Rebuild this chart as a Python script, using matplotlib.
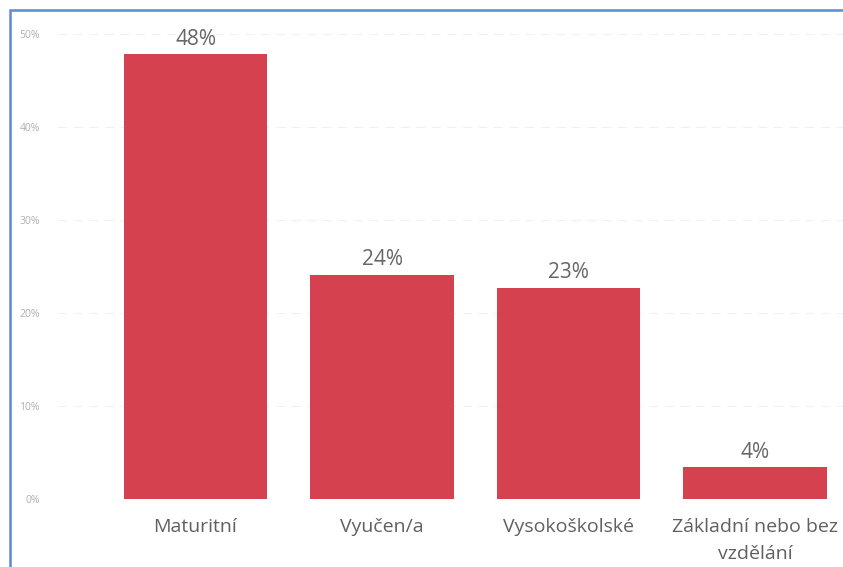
import matplotlib.pyplot as plt
from matplotlib.patches import Rectangle

categories = ['Maturitní', 'Vyučen/a', 'Vysokoškolské', 'Základní nebo bez\nvzdělání']
shares = [47.8, 24.1, 22.7, 3.4]
labels = ['48%', '24%', '23%', '4%']
yticks = [0, 10, 20, 30, 40, 50]

plt.rcParams['font.family'] = ['Open Sans', 'DejaVu Sans']

W, H = 843, 567
fig = plt.figure(figsize=(W / 100, H / 100), dpi=100)

# axes placed in pixel terms
left, right, bottom, top = 58, 843, 499, 34
ax = fig.add_axes([left / W, (H - bottom) / H, (right - left) / W, (bottom - top) / H])

step = 186.5
c0 = 195.5
ax.set_xlim(-(c0 - left) / step, (right - c0) / step)
ax.set_ylim(0, 50)

x = range(len(categories))
ax.bar(x, shares, width=0.77, color='#d5414e', zorder=2)
for xi, v, lab in zip(x, shares, labels):
    ax.text(xi, v + 0.5, lab, ha='center', va='bottom', fontsize=15, color='#666666')

ax.set_xticks(list(x))
ax.set_xticklabels(categories, fontsize=14, color='#606060', linespacing=1.6)
ax.set_yticks(yticks)
ax.set_yticklabels([f'{t}%' for t in yticks], fontsize=7.5, color='#b0b0b0')
ax.tick_params(length=0)
ax.tick_params(axis='x', pad=14)
ax.tick_params(axis='y', pad=13)
ax.grid(axis='y', color='#f0f0f0', lw=0.8, ls=(0, (8, 6)), zorder=0)
for s in ax.spines.values():
    s.set_visible(False)

# blue frame around the visual
fig.patches.append(Rectangle((9.5 / W, -0.1), 1.2, (H - 9.5) / H + 0.1,
                             transform=fig.transFigure, fill=False,
                             edgecolor='#5b8bd0', lw=1.8))

fig.savefig('out.png', dpi=100)
